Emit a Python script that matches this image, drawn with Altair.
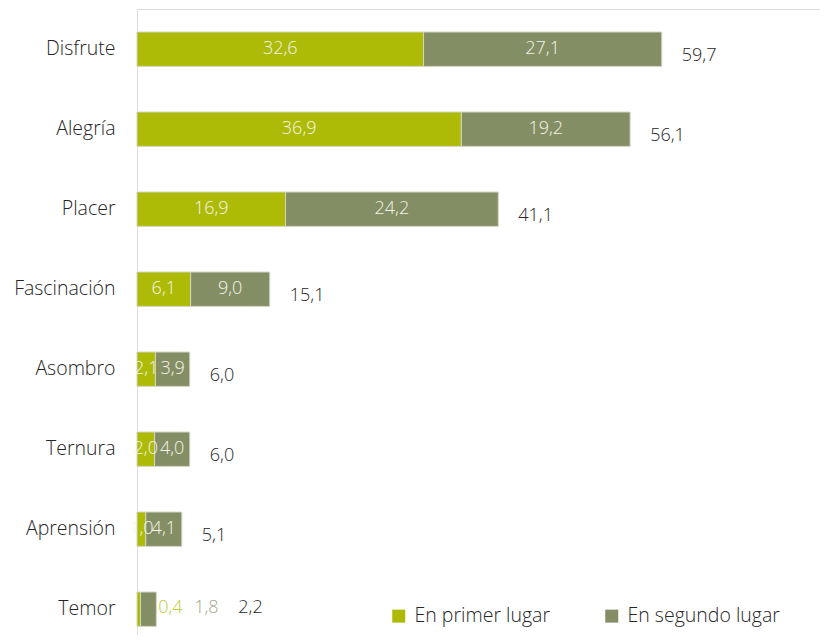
import altair as alt
import pandas as pd

categorias = ["Disfrute", "Alegría", "Placer", "Fascinación", "Asombro", "Ternura", "Aprensión", "Temor"]
primer = [32.6, 36.9, 16.9, 6.1, 2.1, 2.0, 1.0, 0.4]
segundo = [27.1, 19.2, 24.2, 9.0, 3.9, 4.0, 4.1, 1.8]
totales = [59.7, 56.1, 41.1, 15.1, 6.0, 6.0, 5.1, 2.2]
series = ["En primer lugar", "En segundo lugar"]
colores = ["#adbb07", "#848e64"]

def fmt(v):
    return f"{v:.1f}".replace(".", ",")

rows = []
for c, p, s, t in zip(categorias, primer, segundo, totales):
    rows.append(dict(cat=c, serie=series[0], start=0, end=p, mid=p / 2, label=fmt(p), total=t, tlabel=fmt(t)))
    rows.append(dict(cat=c, serie=series[1], start=p, end=p + s, mid=p + s / 2, label=fmt(s), total=t, tlabel=fmt(t)))
df = pd.DataFrame(rows)
dft = pd.DataFrame(dict(cat=categorias, total=totales, tlabel=[fmt(t) for t in totales]))

FONT = "Open Sans"
FS = 18      # numbers
FSL = 19.5   # words
FW = 300
xscale = alt.Scale(domain=[0, 77.7], nice=False, zero=True)
yscale = alt.Scale(domain=categorias, paddingInner=0.57, paddingOuter=0.1975, align=0.728)

y = alt.Y("cat:N", sort=categorias, scale=yscale,
          axis=alt.Axis(title=None, ticks=False, domain=False, labelFontSize=FSL,
                        labelFont=FONT, labelFontWeight=FW, labelColor="#262626", labelPadding=22))

bars = alt.Chart(df).mark_bar(stroke="#d3d6c6", strokeWidth=1).encode(
    x=alt.X("start:Q", scale=xscale, axis=None),
    x2="end:Q",
    y=y,
    color=alt.Color("serie:N", scale=alt.Scale(domain=series, range=colores),
                    legend=alt.Legend(title=None, orient="none", legendX=252, legendY=597,
                                      direction="horizontal", symbolType="square",
                                      symbolSize=169, symbolStrokeWidth=0,
                                      labelFontSize=FSL, labelFont=FONT, labelFontWeight=FW,
                                      labelColor="#262626",
                                      labelOffset=6, columnPadding=51)),
)

inner = alt.Chart(df).transform_filter(alt.datum.cat != "Temor").mark_text(
    color="#f4f4ea", fontSize=FS, font=FONT, fontWeight=FW, align="center", baseline="middle"
).encode(x=alt.X("mid:Q", scale=xscale), y=y, text="label:N")

tot = alt.Chart(dft).transform_filter(alt.datum.cat != "Temor").mark_text(
    color="#262626", fontSize=FS, font=FONT, fontWeight=FW, align="left", baseline="middle", dx=20, dy=7
).encode(x=alt.X("total:Q", scale=xscale), y=y, text="tlabel:N")

temor_p = alt.Chart(df).transform_filter(
    (alt.datum.cat == "Temor") & (alt.datum.serie == series[0])
).mark_text(color="#bccb3a", fontSize=FS, font=FONT, fontWeight=FW, align="center", baseline="middle", dx=14, dy=-1
).encode(x=alt.X("total:Q", scale=xscale), y=y, text="label:N")

temor_s = alt.Chart(df).transform_filter(
    (alt.datum.cat == "Temor") & (alt.datum.serie == series[1])
).mark_text(color="#a1a78a", fontSize=FS, font=FONT, fontWeight=FW, align="center", baseline="middle", dx=50, dy=-1
).encode(x=alt.X("total:Q", scale=xscale), y=y, text="label:N")

temor_t = alt.Chart(dft).transform_filter(alt.datum.cat == "Temor").mark_text(
    color="#262626", fontSize=FS, font=FONT, fontWeight=FW, align="left", baseline="middle", dx=82, dy=-1
).encode(x=alt.X("total:Q", scale=xscale), y=y, text="tlabel:N")

chart = alt.layer(bars, inner, tot, temor_p, temor_s, temor_t).properties(
    width=683, height=626,
    autosize=alt.AutoSizeParams(type="none"),
    padding={"left": 129, "top": 1, "right": 0, "bottom": 0},
).configure_view(fill="#f1f1f1", strokeWidth=0).configure(background="white")

chart.save("out.html", embed_options={"renderer": "svg", "actions": False})
